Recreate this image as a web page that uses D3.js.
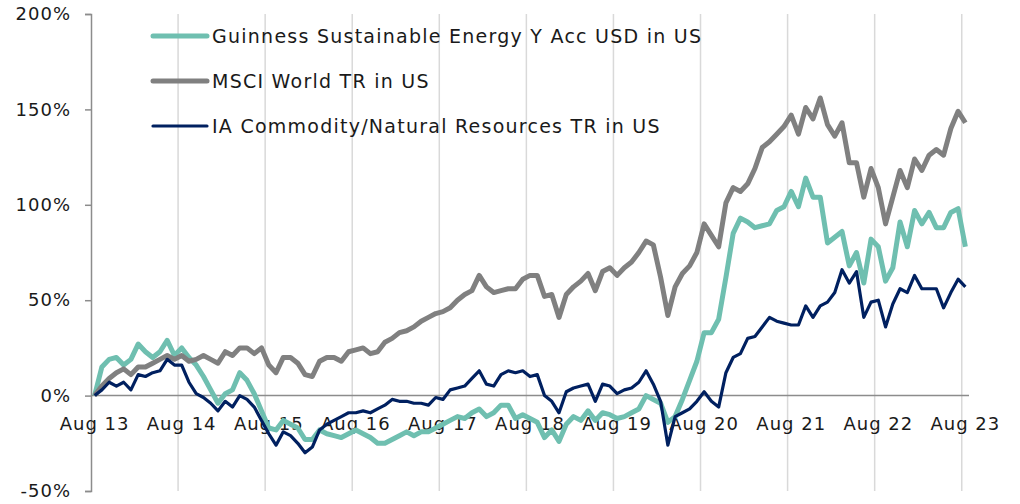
<!DOCTYPE html>
<html>
<head>
<meta charset="utf-8">
<script src="https://cdn.jsdelivr.net/npm/d3@7"></script>
<style>
  body { margin: 0; background: #ffffff; }
  svg text { font-family: "DejaVu Sans", sans-serif; fill: #1a1a1a; }
</style>
</head>
<body>
<script>
//Months Aug 2013 .. Aug 2023
const months = d3.timeMonth.range(new Date(2013, 7, 1), new Date(2023, 8, 1));
const fmtMonth = d3.timeFormat('%b %y');
const categories = months.map(d => fmtMonth(d));

//Series values, cumulative % return
const guinness = [
    0, 15, 19, 20, 16, 19, 27, 23, 20, 23, 29, 21,
    25, 20, 16, 10, 3, -4, 1, 3, 12, 8, 1, -8,
    -17, -18, -13, -15, -17, -23, -23, -18, -20, -21, -22, -20,
    -18, -20, -22, -25, -25, -23, -21, -19, -21, -19, -19, -17,
    -15, -13, -11, -12, -9, -7, -11, -9, -5, -5, -12, -10,
    -12, -14, -22, -18, -24, -15, -11, -13, -8, -13, -9, -10,
    -12, -11, -9, -7, 0, -2, -4, -14, -11, -2, 8, 18,
    33, 33, 40, 62, 85, 93, 91, 88, 89, 90, 97, 99,
    107, 99, 114, 104, 104, 80, 83, 86, 68, 75, 59, 82,
    78, 60, 67, 91, 78, 97, 90, 96, 88, 88, 96, 98,
    78
];
const msci = [
    0, 5, 9, 12, 14, 11, 15, 15, 17, 19, 21, 19,
    21, 18, 19, 21, 19, 17, 23, 21, 25, 25, 22, 25,
    16, 12, 20, 20, 17, 11, 10, 18, 20, 20, 18, 23,
    24, 25, 22, 23, 28, 30, 33, 34, 36, 39, 41, 43,
    44, 46, 50, 53, 55, 63, 57, 54, 55, 56, 56, 61,
    63, 63, 52, 53, 41, 53, 57, 60, 64, 55, 65, 67,
    63, 67, 70, 75, 81, 79, 62, 42, 57, 64, 68, 75,
    90, 84, 78, 101, 109, 107, 111, 119, 130, 133, 137, 141,
    147, 137, 151, 145, 156, 142, 136, 143, 122, 122, 104, 119,
    109, 90, 104, 118, 109, 124, 118, 126, 129, 126, 140, 149,
    143
];
const commodity = [
    0, 3, 7, 5, 7, 3, 11, 10, 12, 13, 19, 16,
    16, 7, 1, -1, -4, -8, -3, -6, 0, -2, -6, -13,
    -20, -26, -19, -21, -25, -30, -27, -18, -15, -13, -11, -9,
    -9, -8, -9, -7, -5, -2, -3, -3, -4, -4, -5, -1,
    -2, 3, 4, 5, 9, 13, 6, 5, 11, 13, 12, 13,
    10, 11, 0, -3, -9, 2, 4, 5, 6, -3, 6, 5,
    1, 3, 4, 7, 13, 6, -3, -26, -11, -9, -7, -3,
    2, -3, -6, 12, 20, 22, 30, 31, 36, 41, 39, 38,
    37, 37, 47, 41, 47, 49, 54, 66, 59, 65, 41, 49,
    50, 36, 48, 56, 54, 63, 56, 56, 56, 46, 54, 61,
    57
];

const seriesNames = [
    'Guinness Sustainable Energy Y Acc USD in US',
    'MSCI World TR in US',
    'IA Commodity/Natural Resources TR in US'
];
const seriesColours = ['#6fbfb0', '#808080', '#002060'];
const seriesWidths = [5, 5, 3.2];
const yTicks = [-50, 0, 50, 100, 150, 200];

const width = 1020;
const height = 504;
const plot = { left: 91, right: 969, top: 14, bottom: 491 };

const svg = d3.select('body').append('svg')
    .attr('width', width)
    .attr('height', height);

//Scales
const x = d3.scaleBand()
    .domain(categories)
    .range([plot.left, plot.right])
    .padding(0);
const xc = c => x(c) + x.bandwidth() / 2;

const y = d3.scaleLinear()
    .domain([-50, 200])
    .range([plot.bottom, plot.top]);

//Vertical gridlines between Jul and Aug
const augCats = categories.filter(c => c.startsWith('Aug'));
svg.append('g')
    .selectAll('line')
    .data(augCats.slice(1))
    .enter()
    .append('line')
    .attr('x1', d => x(d))
    .attr('x2', d => x(d))
    .attr('y1', plot.top)
    .attr('y2', plot.bottom)
    .style('stroke', '#d9d9d9')
    .style('stroke-width', 1.5);

//Y axis
const yAxis = d3.axisLeft(y)
    .tickValues(yTicks)
    .tickSize(6)
    .tickPadding(14)
    .tickFormat(d => d + '%');

svg.append('g')
    .attr('class', 'yAxis')
    .attr('transform', `translate(${plot.left}, 0)`)
    .call(yAxis)
    .call(g => g.select('.domain').style('stroke', '#8c8c8c').style('stroke-width', 1.5))
    .call(g => g.selectAll('.tick line').style('stroke', '#8c8c8c').style('stroke-width', 1.5))
    .call(g => g.selectAll('.tick text')
        .style('font-size', '18px')
        .style('letter-spacing', '1px')
        .style('font-family', '"DejaVu Sans", sans-serif')
        .style('fill', '#1a1a1a'));

//Zero line
svg.append('line')
    .attr('x1', plot.left)
    .attr('x2', plot.right)
    .attr('y1', y(0))
    .attr('y2', y(0))
    .style('stroke', '#8c8c8c')
    .style('stroke-width', 1.5);

//X labels
svg.append('g')
    .selectAll('text')
    .data(augCats)
    .enter()
    .append('text')
    .attr('x', d => xc(d))
    .attr('y', y(0) + 34)
    .style('text-anchor', 'middle')
    .style('font-size', '18px')
    .style('letter-spacing', '1px')
    .text(d => d);

//Lines
const allSeries = [guinness, msci, commodity];
const line = d3.line()
    .x((d, i) => xc(categories[i]))
    .y(d => y(d));

svg.append('g')
    .selectAll('path')
    .data(allSeries)
    .enter()
    .append('path')
    .attr('d', d => line(d))
    .style('fill', 'none')
    .style('stroke', (d, i) => seriesColours[i])
    .style('stroke-width', (d, i) => seriesWidths[i])
    .style('stroke-linejoin', 'round');

//Legend
const legend = svg.append('g')
    .selectAll('g')
    .data(seriesNames)
    .enter()
    .append('g')
    .attr('transform', (d, i) => `translate(153, ${36 + i * 45})`);

legend.append('line')
    .attr('x1', 0)
    .attr('x2', 54)
    .style('stroke', (d, i) => seriesColours[i])
    .style('stroke-width', (d, i) => seriesWidths[i])
    .style('stroke-linecap', 'round');

legend.append('text')
    .attr('x', 59)
    .attr('dy', '0.35em')
    .style('font-size', '19px')
    .style('letter-spacing', '1.25px')
    .text(d => d);
</script>
</body>
</html>
